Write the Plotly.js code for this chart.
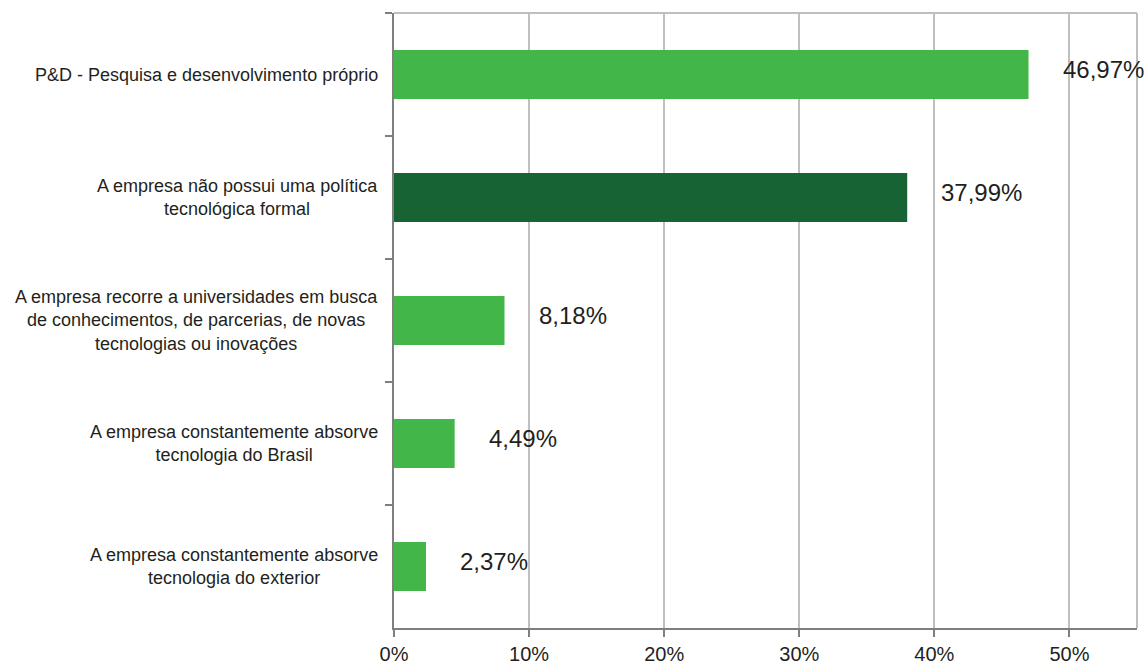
<!DOCTYPE html>
<html>
<head>
<meta charset="utf-8">
<script src="https://cdn.plot.ly/plotly-3.0.1.min.js"></script>
<style>html,body{margin:0;padding:0;background:#fff;}#chart{width:1144px;height:668px;}</style>
</head>
<body>
<div id="chart"></div>
<script>
const categories = [
  "P&D - Pesquisa e desenvolvimento próprio",
  "A empresa não possui uma política<br>tecnológica formal",
  "A empresa recorre a universidades em busca<br>de conhecimentos, de parcerias, de novas<br>tecnologias ou inovações",
  "A empresa constantemente absorve<br>tecnologia do Brasil",
  "A empresa constantemente absorve<br>tecnologia do exterior"
];
const values = [46.97, 37.99, 8.18, 4.49, 2.37];
const tickValues = [0, 10, 20, 30, 40, 50];
const tickLabels = ["0%", "10%", "20%", "30%", "40%", "50%"];

const highlightIndex = 1;
const lightGreen = "#43b649";
const darkGreen = "#176334";
const barColors = values.map((v, i) => i === highlightIndex ? darkGreen : lightGreen);
const font = "Liberation Sans, Arial, sans-serif";
const textColor = "#231f20";

const trace = {
  type: "bar",
  orientation: "h",
  x: values,
  y: categories,
  width: 0.4,
  marker: { color: barColors, line: { width: 0 } },
  hoverinfo: "none"
};

const annotations = [];
categories.forEach((c, i) => {
  annotations.push({
    xref: "paper", yref: "y", x: 0, y: c,
    xanchor: "right", yanchor: "middle", align: "center",
    xshift: -14, showarrow: false, text: c,
    font: { family: font, size: 18, color: textColor }
  });
  annotations.push({
    xref: "x", yref: "y", x: values[i], y: c,
    xanchor: "left", yanchor: "middle",
    xshift: 32, yshift: 5, showarrow: false,
    text: values[i].toFixed(2).replace(".", ",") + "%",
    font: { family: font, size: 24, color: textColor }
  });
});

const layout = {
  width: 1144, height: 668,
  margin: { l: 394, r: 7, t: 13, b: 40, pad: 0 },
  paper_bgcolor: "#ffffff", plot_bgcolor: "#ffffff",
  showlegend: false,
  bargap: 0.6,
  xaxis: {
    range: [0, 55],
    tickvals: tickValues, ticktext: tickLabels,
    showgrid: true, gridcolor: "#bfbfbf", gridwidth: 2,
    zeroline: false,
    showline: true, linecolor: "#7f7f7f", linewidth: 2,
    ticks: "outside", ticklen: 7, tickwidth: 2, tickcolor: "#7f7f7f",
    tickfont: { family: font, size: 20, color: textColor },
    fixedrange: true
  },
  yaxis: {
    autorange: "reversed",
    showticklabels: false,
    showgrid: false, zeroline: false,
    showline: true, linecolor: "#7f7f7f", linewidth: 2,
    ticks: "outside", tickson: "boundaries", ticklen: 7, tickwidth: 2, tickcolor: "#7f7f7f",
    fixedrange: true
  },
  shapes: [
    { type: "line", xref: "paper", yref: "paper", x0: 0, x1: 1, y0: 1, y1: 1, line: { color: "#bfbfbf", width: 2 } },
    { type: "line", xref: "paper", yref: "paper", x0: 1, x1: 1, y0: 0, y1: 1, line: { color: "#bfbfbf", width: 2 } }
  ],
  annotations: annotations
};

Plotly.newPlot("chart", [trace], layout, { displayModeBar: false, staticPlot: true });
</script>
</body>
</html>
